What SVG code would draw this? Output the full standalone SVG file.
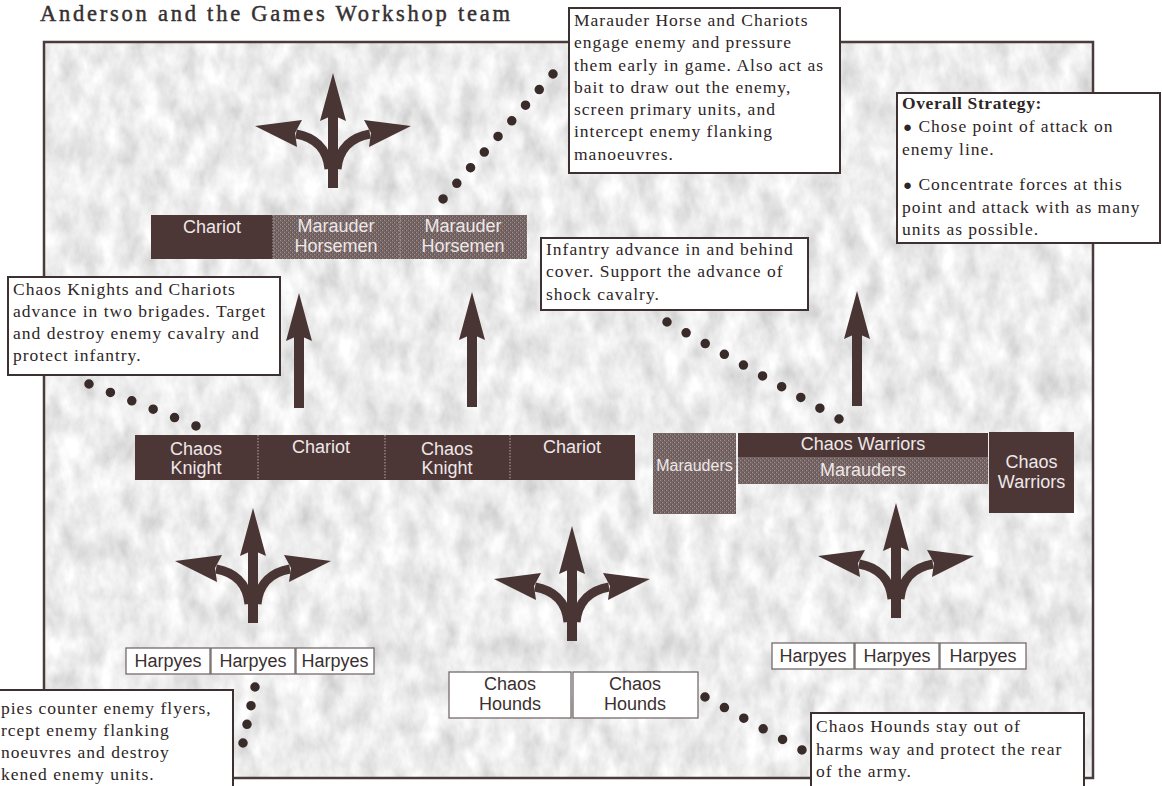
<svg xmlns="http://www.w3.org/2000/svg" width="1162" height="786" viewBox="0 0 1162 786">
<defs>
<style>
.frame{fill:none;stroke:#4a3c3c;stroke-width:2.5}
.callout rect{fill:#fff;stroke:#3d3030;stroke-width:2}
.callout text{font-family:"Liberation Serif",Times,serif;font-size:17.5px;letter-spacing:1px;fill:#2e2626}
.u{font-family:"Liberation Sans",Arial,sans-serif;font-size:18px;text-anchor:middle}
.dark{fill:#4d3636}
.stip{fill:url(#stipple)}
.lt{fill:#eee8e8}
.wbox{fill:#fff;stroke:#6a6060;stroke-width:1.2}
.dt{fill:#3a3030}
.div{stroke:#b5a8a8;stroke-width:1;stroke-dasharray:1.5 1.5}
.leader{stroke:#3a2b2b;stroke-width:9.5;stroke-linecap:round;fill:none}
.ar{fill:#4a3535}
.br{fill:none;stroke:#4a3535;stroke-width:9}
.bul{font-size:15px}
</style>
<filter id="tex" filterUnits="userSpaceOnUse" x="44" y="42" width="1049" height="736">
<feTurbulence type="fractalNoise" baseFrequency="0.05 0.03" numOctaves="4" seed="7"/>
<feColorMatrix type="matrix" values="0.55 0 0 0 0.57 0.55 0 0 0 0.57 0.55 0 0 0 0.57 0 0 0 0 1"/>
</filter>
<pattern id="stipple" width="4" height="4" patternUnits="userSpaceOnUse">
<rect width="4" height="4" fill="#776666"/>
<rect x="0" y="0" width="1" height="1" fill="#9c8d8d"/>
<rect x="2" y="2" width="1" height="1" fill="#9c8d8d"/>
<rect x="3" y="0" width="1" height="1" fill="#5f5050"/>
<rect x="1" y="2" width="1" height="1" fill="#5f5050"/>
</pattern>
<g id="up">
<polygon class="ar" points="0,0 13,48 4,44 -4,44 -13,48"/>
<rect class="ar" x="-5" y="42" width="10" height="73"/>
</g>
<g id="fork">
<use href="#up"/>
<path class="br" d="M-37,61 C-20,64 -6,74 -4,96"/>
<path class="br" d="M37,61 C20,64 6,74 4,96"/>
<polygon class="ar" points="-78,53 -31,47 -38,60 -36,74"/>
<polygon class="ar" points="78,53 31,47 38,60 36,74"/>
</g>
</defs>

<rect width="1162" height="786" fill="#fff"/>
<text x="40" y="21" font-family="Liberation Serif,Times,serif" font-size="22.5" fill="#363030" stroke="#363030" stroke-width="0.45" textLength="470" lengthAdjust="spacing">Anderson and the Games Workshop team</text>

<g id="map">
<rect x="44" y="42" width="1049" height="736" fill="#ddd" filter="url(#tex)"/>
<rect class="frame" x="44" y="42" width="1049" height="736"/>
</g>

<g id="movement-arrows">
<use href="#fork" x="333" y="73"/>
<use href="#fork" x="253" y="508"/>
<use href="#fork" x="572" y="526"/>
<use href="#fork" x="896" y="503"/>
<use href="#up" x="299" y="293"/>
<use href="#up" x="472" y="292"/>
<use href="#up" x="857" y="291"/>
</g>

<g id="connectors">
<path class="leader" d="M553,74 L443,199" stroke-dasharray="0 20.8"/>
<path class="leader" d="M89,384 L196,426" stroke-dasharray="0 22.98"/>
<path class="leader" d="M667,322 L839,419" stroke-dasharray="0 21.94"/>
<path class="leader" d="M255,687 L243,743" stroke-dasharray="0 19.09"/>
<path class="leader" d="M705,697 L802,750" stroke-dasharray="0 22.1"/>
</g>

<g id="unit-chariot-1"><rect class="dark" x="151" y="215" width="122" height="44"/><text class="u lt" x="212" y="233">Chariot</text></g>
<g id="unit-marauder-horsemen-1"><rect class="stip" x="273" y="215" width="127" height="44"/><text class="u lt" x="336" y="232">Marauder</text><text class="u lt" x="336" y="252">Horsemen</text></g>
<g id="unit-marauder-horsemen-2"><rect class="stip" x="400" y="215" width="127" height="44"/><text class="u lt" x="463" y="232">Marauder</text><text class="u lt" x="463" y="252">Horsemen</text></g>
<line class="div" x1="273" y1="215" x2="273" y2="259"/>
<line class="div" x1="400" y1="215" x2="400" y2="259"/>

<g id="unit-chaos-knight-1"><rect class="dark" x="135" y="435" width="123" height="45"/><text class="u lt" x="196" y="455">Chaos</text><text class="u lt" x="196" y="474">Knight</text></g>
<g id="unit-chariot-2"><rect class="dark" x="258" y="435" width="127" height="45"/><text class="u lt" x="321" y="453">Chariot</text></g>
<g id="unit-chaos-knight-2"><rect class="dark" x="385" y="435" width="125" height="45"/><text class="u lt" x="447" y="455">Chaos</text><text class="u lt" x="447" y="474">Knight</text></g>
<g id="unit-chariot-3"><rect class="dark" x="510" y="435" width="125" height="45"/><text class="u lt" x="572" y="453">Chariot</text></g>
<line class="div" x1="258" y1="435" x2="258" y2="480"/>
<line class="div" x1="385" y1="435" x2="385" y2="480"/>
<line class="div" x1="510" y1="435" x2="510" y2="480"/>

<g id="unit-marauders-1"><rect class="stip" x="653" y="433" width="83" height="81"/><text class="u lt" x="694.5" y="471" style="font-size:16px">Marauders</text></g>
<g id="unit-chaos-warriors-1"><rect class="dark" x="738" y="433" width="250" height="24"/><text class="u lt" x="863" y="450">Chaos Warriors</text></g>
<g id="unit-marauders-2"><rect class="stip" x="738" y="457" width="250" height="27"/><text class="u lt" x="863" y="476">Marauders</text></g>
<g id="unit-chaos-warriors-2"><rect class="dark" x="989" y="432" width="85" height="81"/><text class="u lt" x="1031.5" y="468">Chaos</text><text class="u lt" x="1031.5" y="488">Warriors</text></g>

<g id="unit-harpyes-left">
<rect class="wbox" x="126" y="648" width="84" height="26"/><text class="u dt" x="168" y="667">Harpyes</text>
<rect class="wbox" x="211" y="648" width="84" height="26"/><text class="u dt" x="253" y="667">Harpyes</text>
<rect class="wbox" x="296" y="648" width="78" height="26"/><text class="u dt" x="335" y="667">Harpyes</text>
</g>
<g id="unit-harpyes-right">
<rect class="wbox" x="772" y="643" width="82" height="26"/><text class="u dt" x="813" y="662">Harpyes</text>
<rect class="wbox" x="855" y="643" width="84" height="26"/><text class="u dt" x="897" y="662">Harpyes</text>
<rect class="wbox" x="940" y="643" width="86" height="26"/><text class="u dt" x="983" y="662">Harpyes</text>
</g>
<g id="unit-chaos-hounds">
<rect class="wbox" x="449" y="672" width="122" height="46"/><text class="u dt" x="510" y="690">Chaos</text><text class="u dt" x="510" y="710">Hounds</text>
<rect class="wbox" x="573" y="672" width="125" height="46"/><text class="u dt" x="635" y="690">Chaos</text><text class="u dt" x="635" y="710">Hounds</text>
</g>

<g id="note-marauder-horse" class="callout">
<rect x="569" y="8" width="271" height="165"/>
<text x="574" y="26">Marauder Horse and Chariots</text>
<text x="574" y="48">engage enemy and pressure</text>
<text x="574" y="71">them early in game. Also act as</text>
<text x="574" y="93">bait to draw out the enemy,</text>
<text x="574" y="115">screen primary units, and</text>
<text x="574" y="137">intercept enemy flanking</text>
<text x="574" y="160">manoeuvres.</text>
</g>

<g id="note-overall-strategy" class="callout">
<rect x="897" y="93" width="263" height="150"/>
<text x="902" y="109" font-weight="bold" style="letter-spacing:0.6px">Overall Strategy:</text>
<text x="903" y="132"><tspan class="bul">●</tspan> Chose point of attack on</text>
<text x="902" y="155">enemy line.</text>
<text x="903" y="190"><tspan class="bul">●</tspan> Concentrate forces at this</text>
<text x="902" y="213">point and attack with as many</text>
<text x="902" y="235">units as possible.</text>
</g>

<g id="note-infantry" class="callout">
<rect x="541" y="238" width="267" height="72"/>
<text x="546" y="255">Infantry advance in and behind</text>
<text x="546" y="277">cover. Support the advance of</text>
<text x="546" y="300">shock cavalry.</text>
</g>

<g id="note-chaos-knights" class="callout">
<rect x="8" y="277" width="272" height="98"/>
<text x="13" y="295">Chaos Knights and Chariots</text>
<text x="13" y="317">advance in two brigades. Target</text>
<text x="13" y="339">and destroy enemy cavalry and</text>
<text x="13" y="361">protect infantry.</text>
</g>

<g id="note-harpies" class="callout">
<rect x="-10" y="690" width="243" height="110"/>
<text x="1" y="714">pies counter enemy flyers,</text>
<text x="1" y="736">rcept enemy flanking</text>
<text x="1" y="758">noeuvres and destroy</text>
<text x="1" y="780">kened enemy units.</text>
</g>

<g id="note-chaos-hounds" class="callout">
<rect x="811" y="713" width="273" height="85"/>
<text x="816" y="732">Chaos Hounds stay out of</text>
<text x="816" y="755">harms way and protect the rear</text>
<text x="816" y="777">of the army.</text>
</g>
</svg>
